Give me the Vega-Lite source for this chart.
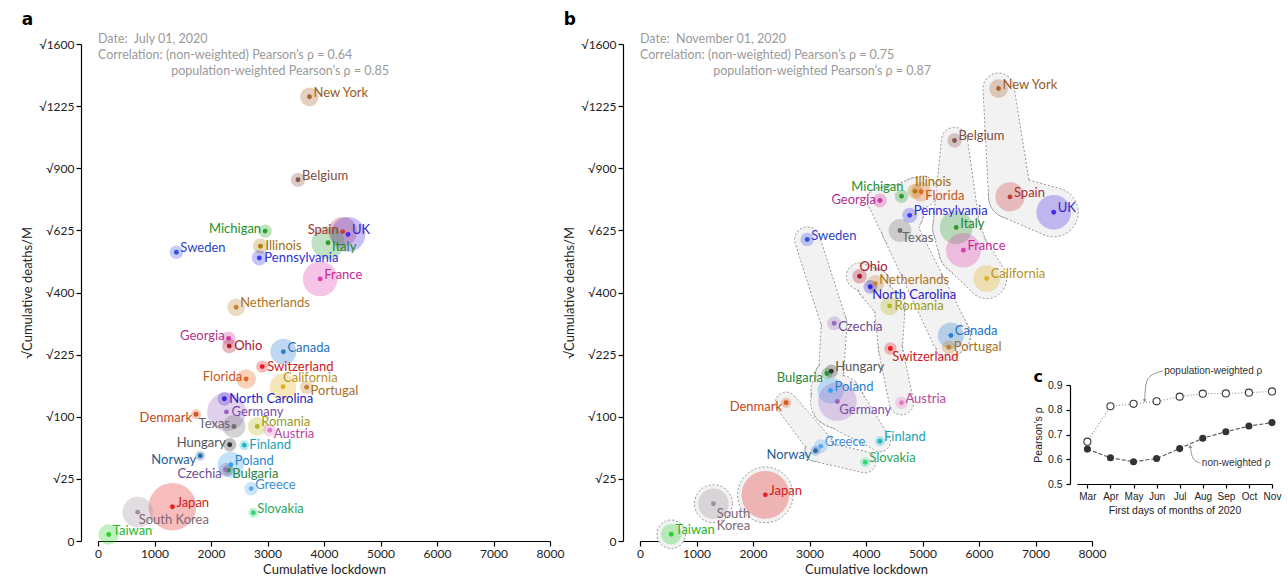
{
"$schema": "https://vega.github.io/schema/vega-lite/v6.json",
"background": "white",
"autosize": {"type": "pad"},
"padding": {"left": 21, "top": 10, "right": 2, "bottom": 5},
"config": {
  "view": {"stroke": null},
  "font": "Lato",
  "legend": {"disable": true},
  "axis": {"domainColor": "#000", "tickColor": "#000", "labelColor": "#222", "titleColor": "#222", "labelFontSize": 12, "titleFontSize": 13, "titleFontWeight": "normal", "tickSize": 5, "grid": false, "labelFont": "Lato", "titleFont": "Lato", "domainWidth": 1.2, "tickWidth": 1.2},
  "axisX": {"labelFlush": false},
  "title": {"font": "DejaVu Sans", "fontSize": 17, "fontWeight": "bold", "color": "#000", "anchor": "start", "frame": "bounds"}
},
"datasets": {
  "A": [
    {"r": "New York", "x": 3743, "y": 1278, "p": 19.45, "pos": "r"},
    {"r": "Belgium", "x": 3540, "y": 845, "p": 11.5, "pos": "r"},
    {"r": "Michigan", "x": 2958, "y": 622, "p": 10.0, "pos": "l"},
    {"r": "Illinois", "x": 2875, "y": 563, "p": 12.7, "pos": "r0"},
    {"r": "Pennsylvania", "x": 2856, "y": 519, "p": 12.8, "pos": "r0"},
    {"r": "Sweden", "x": 1387, "y": 540, "p": 10.2, "pos": "r"},
    {"r": "Spain", "x": 4331, "y": 620, "p": 47.0, "pos": "l"},
    {"r": "UK", "x": 4425, "y": 609, "p": 66.8, "pos": "r"},
    {"r": "Italy", "x": 4071, "y": 576, "p": 60.4, "pos": "rb"},
    {"r": "France", "x": 3933, "y": 445, "p": 67.0, "pos": "r"},
    {"r": "Netherlands", "x": 2445, "y": 354, "p": 17.3, "pos": "r"},
    {"r": "Georgia", "x": 2312, "y": 266, "p": 10.6, "pos": "l"},
    {"r": "Ohio", "x": 2324, "y": 246, "p": 11.7, "pos": "r0"},
    {"r": "Canada", "x": 3281, "y": 232, "p": 37.6, "pos": "r"},
    {"r": "Switzerland", "x": 2907, "y": 197, "p": 8.6, "pos": "r0"},
    {"r": "Florida", "x": 2622, "y": 170, "p": 21.5, "pos": "l"},
    {"r": "California", "x": 3274, "y": 154, "p": 39.5, "pos": "ra"},
    {"r": "Portugal", "x": 3692, "y": 153, "p": 10.3, "pos": "rb"},
    {"r": "North Carolina", "x": 2236, "y": 131, "p": 10.5, "pos": "r0"},
    {"r": "Germany", "x": 2274, "y": 108, "p": 83.0, "pos": "r0"},
    {"r": "Denmark", "x": 1735, "y": 104, "p": 5.8, "pos": "lb"},
    {"r": "Texas", "x": 2407, "y": 85, "p": 29.0, "pos": "l"},
    {"r": "Romania", "x": 2818, "y": 85, "p": 19.4, "pos": "r"},
    {"r": "Austria", "x": 3040, "y": 79.5, "p": 8.9, "pos": "rb"},
    {"r": "Hungary", "x": 2331, "y": 60, "p": 9.8, "pos": "l"},
    {"r": "Finland", "x": 2590, "y": 59.5, "p": 5.5, "pos": "r0"},
    {"r": "Norway", "x": 1811, "y": 47, "p": 5.4, "pos": "lb"},
    {"r": "Poland", "x": 2350, "y": 37.6, "p": 38.0, "pos": "r"},
    {"r": "Bulgaria", "x": 2305, "y": 32.5, "p": 7.0, "pos": "rb"},
    {"r": "Czechia", "x": 2261, "y": 33, "p": 10.7, "pos": "lb"},
    {"r": "Greece", "x": 2711, "y": 17.8, "p": 10.7, "pos": "r"},
    {"r": "Japan", "x": 1317, "y": 7.6, "p": 126.3, "pos": "r"},
    {"r": "South Korea", "x": 703, "y": 5.4, "p": 51.7, "pos": "b"},
    {"r": "Slovakia", "x": 2749, "y": 5.15, "p": 5.5, "pos": "r"},
    {"r": "Taiwan", "x": 190, "y": 0.27, "p": 23.6, "pos": "r"}
  ],
  "B": [
    {"r": "New York", "x": 6346, "y": 1326, "p": 19.45, "pos": "r"},
    {"r": "Belgium", "x": 5566, "y": 1039, "p": 11.5, "pos": "r"},
    {"r": "Illinois", "x": 4868, "y": 792.6, "p": 12.7, "pos": "ra"},
    {"r": "Florida", "x": 4976, "y": 790, "p": 21.5, "pos": "rb"},
    {"r": "Michigan", "x": 4628, "y": 770, "p": 10.0, "pos": "la"},
    {"r": "Georgia", "x": 4247, "y": 751, "p": 10.6, "pos": "l"},
    {"r": "Spain", "x": 6548, "y": 767, "p": 47.0, "pos": "r"},
    {"r": "UK", "x": 7322, "y": 700, "p": 66.8, "pos": "r"},
    {"r": "Pennsylvania", "x": 4773, "y": 687, "p": 12.8, "pos": "r"},
    {"r": "Italy", "x": 5597, "y": 636.6, "p": 60.4, "pos": "r"},
    {"r": "Texas", "x": 4602, "y": 624.5, "p": 29.0, "pos": "b"},
    {"r": "Sweden", "x": 2960, "y": 588.6, "p": 10.2, "pos": "r"},
    {"r": "France", "x": 5724, "y": 547.6, "p": 67.0, "pos": "r"},
    {"r": "Ohio", "x": 3886, "y": 454, "p": 11.7, "pos": "ra"},
    {"r": "California", "x": 6136, "y": 446.4, "p": 39.5, "pos": "r"},
    {"r": "Netherlands", "x": 4165, "y": 428.5, "p": 17.3, "pos": "r"},
    {"r": "North Carolina", "x": 4076, "y": 418.6, "p": 10.5, "pos": "b"},
    {"r": "Romania", "x": 4418, "y": 358, "p": 19.4, "pos": "r0"},
    {"r": "Czechia", "x": 3436, "y": 307, "p": 10.7, "pos": "rb"},
    {"r": "Canada", "x": 5502, "y": 273.6, "p": 37.6, "pos": "r"},
    {"r": "Portugal", "x": 5464, "y": 243.3, "p": 10.3, "pos": "r0"},
    {"r": "Switzerland", "x": 4431, "y": 240, "p": 8.6, "pos": "b"},
    {"r": "Hungary", "x": 3385, "y": 186.8, "p": 9.8, "pos": "r"},
    {"r": "Bulgaria", "x": 3309, "y": 181.7, "p": 7.0, "pos": "lb"},
    {"r": "Poland", "x": 3372, "y": 146.7, "p": 38.0, "pos": "r"},
    {"r": "Germany", "x": 3493, "y": 126, "p": 83.0, "pos": "b"},
    {"r": "Austria", "x": 4628, "y": 123.7, "p": 8.9, "pos": "r"},
    {"r": "Denmark", "x": 2586, "y": 123.7, "p": 5.8, "pos": "lb"},
    {"r": "Finland", "x": 4247, "y": 64.5, "p": 5.5, "pos": "r"},
    {"r": "Greece", "x": 3201, "y": 58.2, "p": 10.7, "pos": "r"},
    {"r": "Norway", "x": 3106, "y": 52.7, "p": 5.4, "pos": "lb"},
    {"r": "Slovakia", "x": 3987, "y": 40.2, "p": 5.5, "pos": "r"},
    {"r": "Japan", "x": 2219, "y": 13.8, "p": 126.3, "pos": "r"},
    {"r": "South Korea", "x": 1300, "y": 9.0, "p": 51.7, "pos": "b2"},
    {"r": "Taiwan", "x": 552, "y": 0.29, "p": 23.6, "pos": "r"}
  ],
  "H": [
    {"g": "g1", "o": 1, "x": 6346, "y": 1326, "p": 19.45},
    {"g": "g1", "o": 2, "x": 6548, "y": 767, "p": 47.0},
    {"g": "g1", "o": 3, "x": 7322, "y": 700, "p": 66.8},
    {"g": "g2", "o": 1, "x": 5566, "y": 1039, "p": 11.5},
    {"g": "g2", "o": 2, "x": 5597, "y": 636.6, "p": 60.4},
    {"g": "g2", "o": 3, "x": 5724, "y": 547.6, "p": 67.0},
    {"g": "g2", "o": 4, "x": 6136, "y": 446.4, "p": 39.5},
    {"g": "g3", "o": 1, "x": 4247, "y": 751, "p": 10.6},
    {"g": "g3", "o": 2, "x": 4628, "y": 770, "p": 10.0},
    {"g": "g3", "o": 3, "x": 4868, "y": 792.6, "p": 12.7},
    {"g": "g3", "o": 4, "x": 4976, "y": 790, "p": 21.5},
    {"g": "g3b", "o": 1, "x": 4247, "y": 751, "p": 10.6},
    {"g": "g3b", "o": 2, "x": 4602, "y": 624.5, "p": 29.0},
    {"g": "g3b", "o": 3, "x": 5502, "y": 273.6, "p": 37.6},
    {"g": "g3b", "o": 4, "x": 5464, "y": 243.3, "p": 10.3},
    {"g": "g3c", "o": 1, "x": 4628, "y": 770, "p": 10.0},
    {"g": "g3c", "o": 2, "x": 4773, "y": 687, "p": 12.8},
    {"g": "g3c", "o": 3, "x": 4602, "y": 624.5, "p": 29.0},
    {"g": "g4", "o": 1, "x": 3886, "y": 454, "p": 11.7},
    {"g": "g4", "o": 2, "x": 4165, "y": 428.5, "p": 17.3},
    {"g": "g4", "o": 3, "x": 4076, "y": 418.6, "p": 10.5},
    {"g": "g4", "o": 4, "x": 4418, "y": 358, "p": 19.4},
    {"g": "g4", "o": 5, "x": 4431, "y": 240, "p": 8.6},
    {"g": "g4", "o": 6, "x": 4628, "y": 123.7, "p": 8.9},
    {"g": "g5", "o": 1, "x": 2960, "y": 588.6, "p": 10.2},
    {"g": "g5", "o": 2, "x": 3436, "y": 307, "p": 10.7},
    {"g": "g5", "o": 3, "x": 3385, "y": 186.8, "p": 9.8},
    {"g": "g5", "o": 4, "x": 3309, "y": 181.7, "p": 7.0},
    {"g": "g5", "o": 5, "x": 3372, "y": 146.7, "p": 38.0},
    {"g": "g5", "o": 6, "x": 3493, "y": 126, "p": 83.0},
    {"g": "g5", "o": 7, "x": 4247, "y": 64.5, "p": 5.5},
    {"g": "g6", "o": 1, "x": 2586, "y": 123.7, "p": 5.8},
    {"g": "g6", "o": 2, "x": 3201, "y": 58.2, "p": 10.7},
    {"g": "g6", "o": 3, "x": 3106, "y": 52.7, "p": 5.4},
    {"g": "g6", "o": 4, "x": 3987, "y": 40.2, "p": 5.5}
  ],
  "S": [
    {"r": "Japan", "x": 2219, "y": 13.8, "p": 126.3},
    {"r": "South Korea", "x": 1300, "y": 9.0, "p": 51.7},
    {"r": "Taiwan", "x": 552, "y": 0.29, "p": 23.6}
  ],
  "N": [
    {"panel": "a", "x": 0, "y": 1635, "t": "Date:\u00a0\u00a0July 01, 2020"},
    {"panel": "a", "x": 0, "y": 1527, "t": "Correlation: (non-weighted) Pearson’s ρ = 0.64"},
    {"panel": "a", "x": 1296, "y": 1431, "t": "population-weighted Pearson’s ρ = 0.85"},
    {"panel": "b", "x": 0, "y": 1635, "t": "Date:\u00a0\u00a0November 01, 2020"},
    {"panel": "b", "x": 0, "y": 1527, "t": "Correlation: (non-weighted) Pearson’s ρ = 0.75"},
    {"panel": "b", "x": 1296, "y": 1431, "t": "population-weighted Pearson’s ρ = 0.87"}
  ],
  "C": [
    {"m": 3, "k": "nw", "v": 0.641}, {"m": 4, "k": "nw", "v": 0.606}, {"m": 5, "k": "nw", "v": 0.590},
    {"m": 6, "k": "nw", "v": 0.603}, {"m": 7, "k": "nw", "v": 0.643}, {"m": 8, "k": "nw", "v": 0.685},
    {"m": 9, "k": "nw", "v": 0.711}, {"m": 10, "k": "nw", "v": 0.734}, {"m": 11, "k": "nw", "v": 0.748},
    {"m": 3, "k": "w", "v": 0.671}, {"m": 4, "k": "w", "v": 0.814}, {"m": 5, "k": "w", "v": 0.824},
    {"m": 6, "k": "w", "v": 0.834}, {"m": 7, "k": "w", "v": 0.853}, {"m": 8, "k": "w", "v": 0.865},
    {"m": 9, "k": "w", "v": 0.866}, {"m": 10, "k": "w", "v": 0.869}, {"m": 11, "k": "w", "v": 0.874}
  ],
  "CA": [
    {"a": "w", "o": 1, "m": 6.28, "v": 0.957},
    {"a": "w", "o": 2, "m": 5.62, "v": 0.94},
    {"a": "w", "o": 3, "m": 5.51, "v": 0.893},
    {"a": "w", "o": 4, "m": 5.48, "v": 0.836},
    {"a": "nw", "o": 1, "m": 7.91, "v": 0.584},
    {"a": "nw", "o": 2, "m": 7.62, "v": 0.593},
    {"a": "nw", "o": 3, "m": 7.51, "v": 0.617},
    {"a": "nw", "o": 4, "m": 7.46, "v": 0.652}
  ],
  "CT": [
    {"m": 6.33, "v": 0.957, "t": "population-weighted ρ"},
    {"m": 7.96, "v": 0.585, "t": "non-weighted ρ"}
  ]
},
"resolve": {"scale": {"size": "independent", "color": "independent", "fill": "independent"}},
"bounds": "flush",
"spacing": 90,
"hconcat": [
  {
    "width": 452, "height": 497,
    "title": {"text": "a", "offset": 4},
    "data": {"name": "A"},
    "encoding": {
      "x": {"field": "x", "type": "quantitative", "scale": {"domain": [0, 8000], "nice": false}, "axis": {"values": [0, 1000, 2000, 3000, 4000, 5000, 6000, 7000, 8000], "format": "d", "title": "Cumulative lockdown"}},
      "y": {"field": "y", "type": "quantitative", "scale": {"type": "sqrt", "domain": [0, 1600], "nice": false}, "axis": {"values": [0, 25, 100, 225, 400, 625, 900, 1225, 1600], "labelExpr": "datum.value == 0 ? '0' : '√' + datum.value", "title": "√Cumulative deaths/M", "offset": 17}}
    },
    "layer": [
      {"mark": {"type": "circle", "opacity": 0.3}, "encoding": {"size": {"field": "p", "type": "quantitative", "scale": {"domain": [0, 130], "range": [0, 2340]}}, "color": {"field": "r", "type": "nominal", "scale": {"domain": ["New York","Belgium","Michigan","Illinois","Pennsylvania","Sweden","Spain","UK","Italy","France","Netherlands","Georgia","Ohio","Canada","Switzerland","Florida","California","Portugal","North Carolina","Germany","Denmark","Texas","Romania","Austria","Hungary","Finland","Norway","Poland","Bulgaria","Czechia","Greece","Japan","South Korea","Slovakia","Taiwan"], "range": ["#a8652e","#8c564b","#2ca02c","#b07f0e","#3c3cf0","#3852e0","#c83c3c","#4a2ae8","#2e9a35","#e03cb0","#c48530","#cc3a9f","#b2182b","#2a7fd4","#e8191c","#e8671c","#e0b01f","#c0822e","#3322dd","#9b62c6","#d9541e","#6f6f6f","#b5b520","#e07ac8","#333333","#1cb8c8","#2b6aa8","#35a0f0","#2f8f40","#9a6cc0","#5aaaf5","#e32222","#a08f9a","#30d878","#2ed02e"]}}}},
      {"mark": {"type": "circle", "opacity": 1, "size": 24}, "encoding": {"color": {"field": "r", "type": "nominal"}}},
      {"transform": [{"filter": "datum.pos == 'r'"}], "mark": {"type": "text", "align": "left", "baseline": "middle", "dx": 4, "dy": -4, "fontSize": 13}, "encoding": {"text": {"field": "r"}, "fill": {"field": "r", "type": "nominal", "scale": {"domain": ["New York","Belgium","Michigan","Illinois","Pennsylvania","Sweden","Spain","UK","Italy","France","Netherlands","Georgia","Ohio","Canada","Switzerland","Florida","California","Portugal","North Carolina","Germany","Denmark","Texas","Romania","Austria","Hungary","Finland","Norway","Poland","Bulgaria","Czechia","Greece","Japan","South Korea","Slovakia","Taiwan"], "range": ["#9a5a24","#7d4c43","#22922a","#9c7108","#2e2ed8","#2f3fc4","#a83030","#3a1fd0","#238a2c","#c52a98","#ad7526","#b52f8d","#a3152a","#2270bf","#d0171a","#cc5617","#b8921a","#a86f24","#2a1bc4","#7d4aa5","#c04818","#666666","#9a9a1a","#b8489a","#555555","#17a2b0","#245d96","#1f85d0","#2b843a","#6c4a94","#3d8ed6","#d11a1a","#7d6878","#27a85e","#28b428"]}}}},
      {"transform": [{"filter": "datum.pos == 'r0'"}], "mark": {"type": "text", "align": "left", "baseline": "middle", "dx": 5, "dy": 0, "fontSize": 13}, "encoding": {"text": {"field": "r"}, "fill": {"field": "r", "type": "nominal"}}},
      {"transform": [{"filter": "datum.pos == 'rb'"}], "mark": {"type": "text", "align": "left", "baseline": "middle", "dx": 4, "dy": 4, "fontSize": 13}, "encoding": {"text": {"field": "r"}, "fill": {"field": "r", "type": "nominal"}}},
      {"transform": [{"filter": "datum.pos == 'ra'"}], "mark": {"type": "text", "align": "left", "baseline": "middle", "dx": 0, "dy": -9, "fontSize": 13}, "encoding": {"text": {"field": "r"}, "fill": {"field": "r", "type": "nominal"}}},
      {"transform": [{"filter": "datum.pos == 'b'"}], "mark": {"type": "text", "align": "left", "baseline": "top", "dx": 1, "dy": 2, "fontSize": 13}, "encoding": {"text": {"field": "r"}, "fill": {"field": "r", "type": "nominal"}}},
      {"transform": [{"filter": "datum.pos == 'l'"}], "mark": {"type": "text", "align": "right", "baseline": "middle", "dx": -4, "dy": -2, "fontSize": 13}, "encoding": {"text": {"field": "r"}, "fill": {"field": "r", "type": "nominal"}}},
      {"transform": [{"filter": "datum.pos == 'lb'"}], "mark": {"type": "text", "align": "right", "baseline": "middle", "dx": -4, "dy": 4, "fontSize": 13}, "encoding": {"text": {"field": "r"}, "fill": {"field": "r", "type": "nominal"}}},
      {"data": {"name": "N"}, "transform": [{"filter": "datum.panel == 'a'"}], "mark": {"type": "text", "align": "left", "baseline": "middle", "fontSize": 12.5, "color": "#9a9a9a"}, "encoding": {"text": {"field": "t"}}}
    ]
  },
  {
    "bounds": "flush",
    "spacing": 0,
    "resolve": {"scale": {"size": "independent", "color": "independent", "fill": "independent"}},
    "hconcat": [
      {
        "width": 437, "height": 497,
        "title": {"text": "b", "offset": 4},
        "data": {"name": "B"},
        "resolve": {"scale": {"size": "independent"}},
        "encoding": {
          "x": {"field": "x", "type": "quantitative", "scale": {"domain": [0, 8000], "range": [0, 452], "nice": false}, "axis": {"values": [0, 1000, 2000, 3000, 4000, 5000, 6000, 7000, 8000], "format": "d", "title": "Cumulative lockdown"}},
          "y": {"field": "y", "type": "quantitative", "scale": {"type": "sqrt", "domain": [0, 1600], "nice": false}, "axis": {"values": [0, 25, 100, 225, 400, 625, 900, 1225, 1600], "labelExpr": "datum.value == 0 ? '0' : '√' + datum.value", "title": "√Cumulative deaths/M", "offset": 17}}
        },
        "layer": [
          {"data": {"name": "H"}, "mark": {"type": "trail", "fill": "#f2f2f2", "stroke": "#8a8a8a", "strokeWidth": 0.9, "strokeDash": [2, 2]}, "encoding": {"detail": {"field": "g"}, "order": {"field": "o", "type": "quantitative"}, "size": {"field": "p", "type": "quantitative", "scale": {"type": "sqrt", "domain": [0, 130], "range": [10, 64.6]}}}},
          {"data": {"name": "S"}, "mark": {"type": "circle", "fill": "#f2f2f2", "opacity": 1, "stroke": "#8a8a8a", "strokeWidth": 0.9, "strokeDash": [2, 2]}, "encoding": {"size": {"field": "p", "type": "quantitative", "scale": {"domain": [0, 130], "range": [296, 3176]}}}},
          {"data": {"name": "H"}, "mark": {"type": "trail", "fill": "#f2f2f2"}, "encoding": {"detail": {"field": "g"}, "order": {"field": "o", "type": "quantitative"}, "size": {"field": "p", "type": "quantitative", "scale": {"type": "sqrt", "domain": [0, 130], "range": [8, 62.6]}}}},
          {"mark": {"type": "circle", "opacity": 0.3}, "encoding": {"size": {"field": "p", "type": "quantitative", "scale": {"domain": [0, 130], "range": [0, 2340]}}, "color": {"field": "r", "type": "nominal", "scale": {"domain": ["New York","Belgium","Michigan","Illinois","Pennsylvania","Sweden","Spain","UK","Italy","France","Netherlands","Georgia","Ohio","Canada","Switzerland","Florida","California","Portugal","North Carolina","Germany","Denmark","Texas","Romania","Austria","Hungary","Finland","Norway","Poland","Bulgaria","Czechia","Greece","Japan","South Korea","Slovakia","Taiwan"], "range": ["#a8652e","#8c564b","#2ca02c","#b07f0e","#3c3cf0","#3852e0","#c83c3c","#4a2ae8","#2e9a35","#e03cb0","#c48530","#cc3a9f","#b2182b","#2a7fd4","#e8191c","#e8671c","#e0b01f","#c0822e","#3322dd","#9b62c6","#d9541e","#6f6f6f","#b5b520","#e07ac8","#333333","#1cb8c8","#2b6aa8","#35a0f0","#2f8f40","#9a6cc0","#5aaaf5","#e32222","#a08f9a","#30d878","#2ed02e"]}}}},
          {"mark": {"type": "circle", "opacity": 1, "size": 24}, "encoding": {"color": {"field": "r", "type": "nominal"}}},
          {"transform": [{"filter": "datum.pos == 'r'"}], "mark": {"type": "text", "align": "left", "baseline": "middle", "dx": 4, "dy": -4, "fontSize": 13}, "encoding": {"text": {"field": "r"}, "fill": {"field": "r", "type": "nominal", "scale": {"domain": ["New York","Belgium","Michigan","Illinois","Pennsylvania","Sweden","Spain","UK","Italy","France","Netherlands","Georgia","Ohio","Canada","Switzerland","Florida","California","Portugal","North Carolina","Germany","Denmark","Texas","Romania","Austria","Hungary","Finland","Norway","Poland","Bulgaria","Czechia","Greece","Japan","South Korea","Slovakia","Taiwan"], "range": ["#9a5a24","#7d4c43","#22922a","#9c7108","#2e2ed8","#2f3fc4","#a83030","#3a1fd0","#238a2c","#c52a98","#ad7526","#b52f8d","#a3152a","#2270bf","#d0171a","#cc5617","#b8921a","#a86f24","#2a1bc4","#7d4aa5","#c04818","#666666","#9a9a1a","#b8489a","#555555","#17a2b0","#245d96","#1f85d0","#2b843a","#6c4a94","#3d8ed6","#d11a1a","#7d6878","#27a85e","#28b428"]}}}},
          {"transform": [{"filter": "datum.pos == 'r0'"}], "mark": {"type": "text", "align": "left", "baseline": "middle", "dx": 5, "dy": 0, "fontSize": 13}, "encoding": {"text": {"field": "r"}, "fill": {"field": "r", "type": "nominal"}}},
          {"transform": [{"filter": "datum.pos == 'rb'"}], "mark": {"type": "text", "align": "left", "baseline": "middle", "dx": 4, "dy": 4, "fontSize": 13}, "encoding": {"text": {"field": "r"}, "fill": {"field": "r", "type": "nominal"}}},
          {"transform": [{"filter": "datum.pos == 'ra'"}], "mark": {"type": "text", "align": "left", "baseline": "middle", "dx": 0, "dy": -9, "fontSize": 13}, "encoding": {"text": {"field": "r"}, "fill": {"field": "r", "type": "nominal"}}},
          {"transform": [{"filter": "datum.pos == 'b'"}], "mark": {"type": "text", "align": "left", "baseline": "top", "dx": 2, "dy": 2, "fontSize": 13}, "encoding": {"text": {"field": "r"}, "fill": {"field": "r", "type": "nominal"}}},
          {"transform": [{"filter": "datum.pos == 'b2'"}], "mark": {"type": "text", "align": "center", "baseline": "top", "dx": 20, "dy": 4, "fontSize": 13, "lineBreak": " ", "lineHeight": 12}, "encoding": {"text": {"field": "r"}, "fill": {"field": "r", "type": "nominal"}}},
          {"transform": [{"filter": "datum.pos == 'l'"}], "mark": {"type": "text", "align": "right", "baseline": "middle", "dx": -4, "dy": -1, "fontSize": 13}, "encoding": {"text": {"field": "r"}, "fill": {"field": "r", "type": "nominal"}}},
          {"transform": [{"filter": "datum.pos == 'lb'"}], "mark": {"type": "text", "align": "right", "baseline": "middle", "dx": -4, "dy": 4, "fontSize": 13}, "encoding": {"text": {"field": "r"}, "fill": {"field": "r", "type": "nominal"}}},
          {"transform": [{"filter": "datum.pos == 'la'"}], "mark": {"type": "text", "align": "right", "baseline": "middle", "dx": 2, "dy": -9, "fontSize": 13}, "encoding": {"text": {"field": "r"}, "fill": {"field": "r", "type": "nominal"}}},
          {"data": {"name": "N"}, "transform": [{"filter": "datum.panel == 'b'"}], "mark": {"type": "text", "align": "left", "baseline": "middle", "fontSize": 12.5, "color": "#9a9a9a"}, "encoding": {"text": {"field": "t"}}}
        ]
      },
      {
        "bounds": "flush",
        "spacing": 0,
        "vconcat": [
          {"width": 195, "height": 341, "data": {"values": [{"k": 1}]}, "mark": {"type": "text", "opacity": 0}, "encoding": {"text": {"value": " "}}},
          {
            "width": 195, "height": 99,
            "title": {"text": "c", "offset": -19, "fontSize": 16},
            "data": {"name": "C"},
            "encoding": {
              "x": {"field": "m", "type": "quantitative", "scale": {"domain": [2.55, 11], "nice": false, "zero": false}, "axis": {"values": [3, 4, 5, 6, 7, 8, 9, 10, 11], "labelExpr": "['Jan','Feb','Mar','Apr','May','Jun','Jul','Aug','Sep','Oct','Nov','Dec'][datum.value - 1]", "labelOverlap": false, "labelBound": false, "labelFlush": false, "title": "First days of months of 2020", "labelFont": "Liberation Sans", "titleFont": "Liberation Sans", "labelFontSize": 10, "titleFontSize": 10.5, "tickSize": 4, "labelPadding": 3, "titlePadding": 4}},
              "y": {"field": "v", "type": "quantitative", "scale": {"domain": [0.5, 0.9], "nice": false, "zero": false}, "axis": {"values": [0.5, 0.6, 0.7, 0.8, 0.9], "format": ".1f", "title": "Pearson’s ρ", "offset": 7, "labelFont": "Liberation Sans", "titleFont": "Liberation Sans", "labelFontSize": 10.5, "titleFontSize": 10.5, "tickSize": 4, "labelPadding": 4}}
            },
            "layer": [
              {"transform": [{"filter": "datum.k == 'w'"}], "mark": {"type": "line", "color": "#8a8a8a", "strokeWidth": 1.1, "strokeDash": [1, 2]}},
              {"transform": [{"filter": "datum.k == 'nw'"}], "mark": {"type": "line", "color": "#555", "strokeWidth": 1.1, "strokeDash": [4, 2]}},
              {"transform": [{"filter": "datum.k == 'w'"}], "mark": {"type": "point", "filled": true, "fill": "white", "stroke": "#3a3a3a", "strokeWidth": 1.1, "size": 50, "opacity": 1}},
              {"transform": [{"filter": "datum.k == 'nw'"}], "mark": {"type": "circle", "color": "#333", "size": 50, "opacity": 1}},
              {"data": {"name": "CA"}, "mark": {"type": "line", "color": "#8a8a8a", "strokeWidth": 0.9, "interpolate": "basis"}, "encoding": {"detail": {"field": "a"}, "order": {"field": "o", "type": "quantitative"}}},
              {"data": {"name": "CA"}, "transform": [{"filter": "datum.a == 'w' && datum.o == 4"}], "mark": {"type": "point", "shape": "triangle-down", "filled": true, "color": "#8a8a8a", "size": 14, "opacity": 1}},
              {"data": {"name": "CA"}, "transform": [{"filter": "datum.a == 'nw' && datum.o == 4"}], "mark": {"type": "point", "shape": "triangle-up", "filled": true, "color": "#8a8a8a", "size": 14, "opacity": 1}},
              {"data": {"name": "CT"}, "mark": {"type": "text", "align": "left", "baseline": "middle", "font": "Liberation Sans", "fontSize": 10, "color": "#333"}, "encoding": {"text": {"field": "t"}}}
            ]
          }
        ]
      }
    ]
  }
]
}
